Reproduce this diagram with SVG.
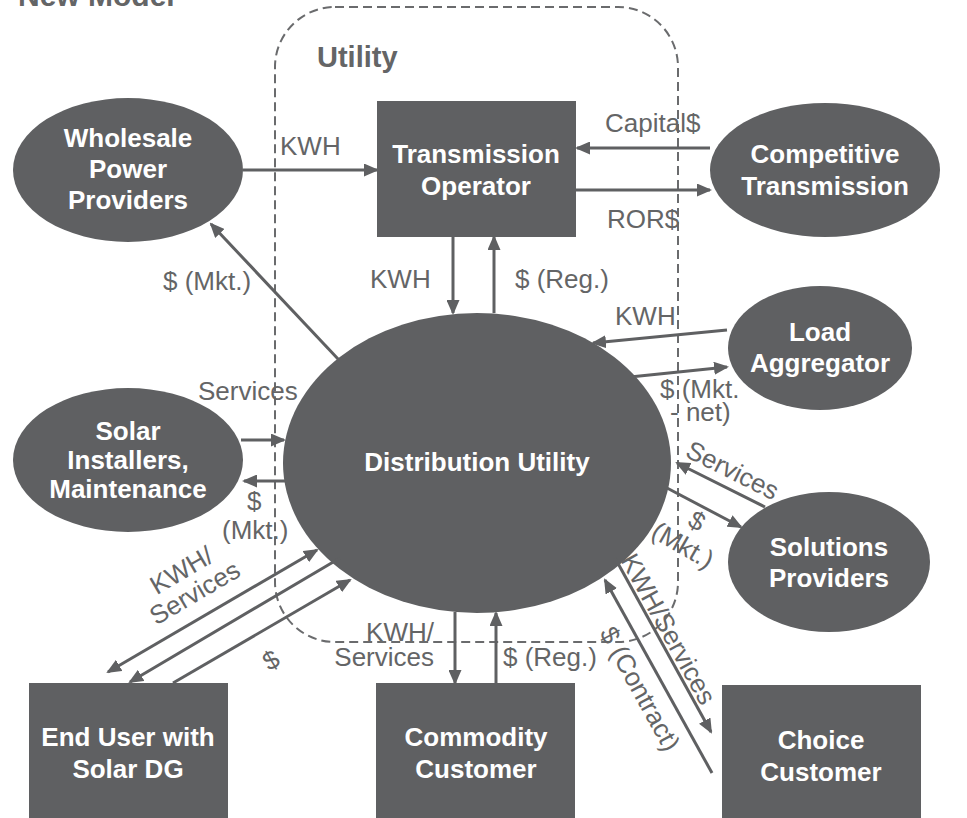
<svg xmlns="http://www.w3.org/2000/svg" width="967" height="818" viewBox="0 0 967 818">
  <style>
    .node { fill: #5f6062; }
    .nt { font-family: "Liberation Sans", Arial, sans-serif; font-weight: bold; font-size: 26px; fill: #ffffff; text-anchor: middle; }
    .lbl { font-family: "Liberation Sans", Arial, sans-serif; font-size: 26px; fill: #646566; }
    .head { font-family: "Liberation Sans", Arial, sans-serif; font-weight: bold; fill: #646566; }
    .cn { stroke: #5f6062; stroke-width: 3; fill: none; marker-end: url(#arr); }
    .both { marker-start: url(#arr); }
    .bound { fill: none; stroke: #6a6b6d; stroke-width: 2; stroke-dasharray: 9 5; }
  </style>
  <defs>
    <marker id="arr" viewBox="0 0 15 13" refX="13" refY="6.5" markerWidth="15" markerHeight="13" markerUnits="userSpaceOnUse" orient="auto-start-reverse">
      <path d="M0,0 L15,6.5 L0,13 Z" fill="#5f6062"/>
    </marker>
  </defs>

  <!-- headings -->
  <text class="head" x="18" y="6" font-size="30">New Model</text>
  <rect class="bound" x="275" y="7" width="403" height="635" rx="60" ry="60"/>
  <text class="head" x="317" y="67" font-size="29">Utility</text>

  <!-- nodes -->
  <g id="wholesale">
    <ellipse class="node" cx="128" cy="170" rx="115" ry="72"/>
    <text class="nt" x="128" y="147">Wholesale</text>
    <text class="nt" x="128" y="178">Power</text>
    <text class="nt" x="128" y="209">Providers</text>
  </g>
  <g id="transmission-operator">
    <rect class="node" x="377" y="101" width="199" height="136"/>
    <text class="nt" x="476" y="163">Transmission</text>
    <text class="nt" x="476" y="195">Operator</text>
  </g>
  <g id="competitive-transmission">
    <ellipse class="node" cx="825" cy="170" rx="115" ry="67"/>
    <text class="nt" x="825" y="163">Competitive</text>
    <text class="nt" x="825" y="195">Transmission</text>
  </g>
  <g id="load-aggregator">
    <ellipse class="node" cx="820" cy="348" rx="92" ry="62"/>
    <text class="nt" x="820" y="341">Load</text>
    <text class="nt" x="820" y="372">Aggregator</text>
  </g>
  <g id="solar-installers">
    <ellipse class="node" cx="128" cy="460" rx="115" ry="72"/>
    <text class="nt" x="128" y="440">Solar</text>
    <text class="nt" x="128" y="469">Installers,</text>
    <text class="nt" x="128" y="498">Maintenance</text>
  </g>
  <g id="distribution-utility">
    <ellipse class="node" cx="477" cy="463" rx="194" ry="150"/>
    <text class="nt" x="477" y="471">Distribution Utility</text>
  </g>
  <g id="solutions-providers">
    <ellipse class="node" cx="829" cy="562" rx="101" ry="70"/>
    <text class="nt" x="829" y="556">Solutions</text>
    <text class="nt" x="829" y="587">Providers</text>
  </g>
  <g id="end-user">
    <rect class="node" x="29" y="683" width="199" height="135"/>
    <text class="nt" x="128" y="746">End User with</text>
    <text class="nt" x="128" y="778">Solar DG</text>
  </g>
  <g id="commodity-customer">
    <rect class="node" x="376" y="683" width="199" height="135"/>
    <text class="nt" x="476" y="746">Commodity</text>
    <text class="nt" x="476" y="778">Customer</text>
  </g>
  <g id="choice-customer">
    <rect class="node" x="722" y="685" width="199" height="133"/>
    <text class="nt" x="821" y="749">Choice</text>
    <text class="nt" x="821" y="781">Customer</text>
  </g>

  <!-- connectors -->
  <g id="connectors">
    <line class="cn" x1="243" y1="170" x2="377" y2="170"/>
    <line class="cn" x1="339" y1="360" x2="211" y2="224"/>
    <line class="cn" x1="453" y1="237" x2="453" y2="313"/>
    <line class="cn" x1="494" y1="313" x2="494" y2="237"/>
    <line class="cn" x1="710" y1="148" x2="577" y2="148"/>
    <line class="cn" x1="576" y1="190" x2="710" y2="190"/>
    <line class="cn" x1="727" y1="330" x2="593" y2="343"/>
    <line class="cn" x1="630" y1="377" x2="727" y2="367"/>
    <line class="cn" x1="241" y1="440" x2="284" y2="440"/>
    <line class="cn" x1="287" y1="481" x2="244" y2="481"/>
    <line class="cn" x1="765" y1="507" x2="677" y2="463"/>
    <line class="cn" x1="667" y1="488" x2="741" y2="527"/>
    <line class="cn both" x1="108" y1="672" x2="317" y2="550"/>
    <line class="cn" x1="340" y1="558" x2="130" y2="682"/>
    <line class="cn" x1="173" y1="683" x2="350" y2="580"/>
    <line class="cn" x1="455" y1="612" x2="455" y2="683"/>
    <line class="cn" x1="496" y1="683" x2="496" y2="613"/>
    <line class="cn" x1="615" y1="558" x2="711" y2="732"/>
    <line class="cn" x1="712" y1="773" x2="605" y2="580"/>
  </g>

  <!-- connector labels -->
  <g id="labels">
    <text class="lbl" x="280" y="155">KWH</text>
    <text class="lbl" x="163" y="290">$ (Mkt.)</text>
    <text class="lbl" x="370" y="288">KWH</text>
    <text class="lbl" x="515" y="288">$ (Reg.)</text>
    <text class="lbl" x="605" y="132">Capital$</text>
    <text class="lbl" x="607" y="228">ROR$</text>
    <text class="lbl" x="615" y="325">KWH</text>
    <text class="lbl" x="660" y="398">$ (Mkt.</text>
    <text class="lbl" x="670" y="421">- net)</text>
    <text class="lbl" x="198" y="400">Services</text>
    <text class="lbl" x="247" y="510">$</text>
    <text class="lbl" x="222" y="539">(Mkt.)</text>
    <text class="lbl" transform="translate(684,456) rotate(26.6)">Services</text>
    <g transform="translate(690,533) rotate(30)">
      <text class="lbl" x="0" y="-5" text-anchor="middle">$</text>
      <text class="lbl" x="0" y="23" text-anchor="middle">(Mkt.)</text>
    </g>
    <g transform="translate(186,578) rotate(-30.5)">
      <text class="lbl" x="0" y="0" text-anchor="middle">KWH/</text>
      <text class="lbl" x="0" y="26" text-anchor="middle">Services</text>
    </g>
    <text class="lbl" transform="translate(271,660) rotate(-30.5)" x="0" y="9" text-anchor="middle">$</text>
    <text class="lbl" x="434" y="641" text-anchor="end">KWH/</text>
    <text class="lbl" x="434" y="666" text-anchor="end">Services</text>
    <text class="lbl" x="503" y="666">$ (Reg.)</text>
    <text class="lbl" transform="translate(620,560) rotate(61)">KWH/Services</text>
    <text class="lbl" transform="translate(599,633) rotate(61)">$ (Contract)</text>
  </g>
</svg>
